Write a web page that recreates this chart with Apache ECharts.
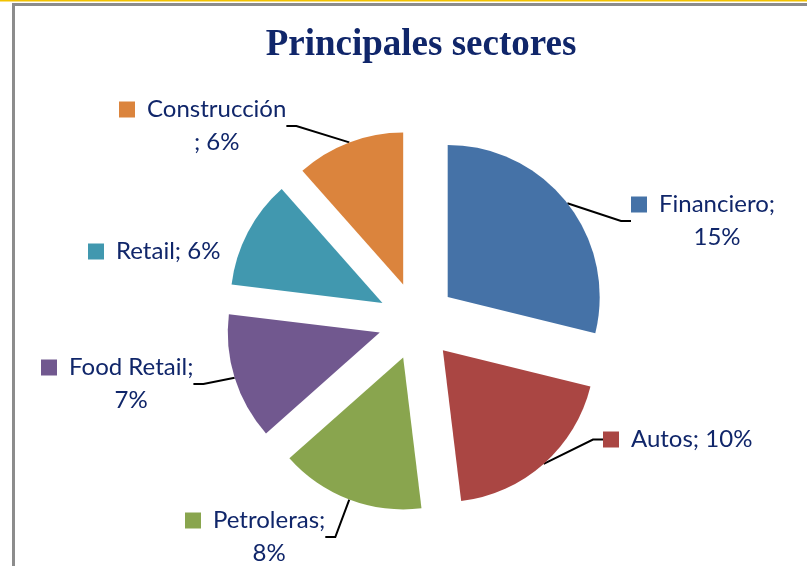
<!DOCTYPE html>
<html>
<head>
<meta charset="utf-8">
<script src="https://cdn.jsdelivr.net/npm/echarts@6/dist/echarts.min.js"></script>
<style>
    html, body { margin: 0; padding: 0; background: #fff; }
    #main { width: 807px; height: 566px; }
</style>
</head>
<body>
<div id="main"></div>
<script>
// datos del grafico
var sectores = ['Financiero', 'Autos', 'Petroleras', 'Food Retail', 'Retail', 'Construcción'];
var pesos = [15, 10, 8, 7, 6, 6];

// estilo / colocacion de etiquetas (no son datos)
var colores = ['#4572A7', '#AA4643', '#89A54E', '#71588F', '#4198AF', '#DB843D'];
var corte = ['after', 'none', 'after', 'after', 'none', 'before']; // donde parte la etiqueta
var posEtiqueta = [[631, 188], [603, 423], [185, 504], [41, 351], [88, 235], [119, 93]];
var conLinea = [true, true, true, true, false, true];

var textColor = '#10266A';
var fuente = 'Lato';
var centro = [417, 321];
var radio = 152;
var separacion = 39; // desplazamiento de cada porcion

var myChart = echarts.init(document.getElementById('main'), null, { renderer: 'canvas' });

function etiqueta(params) {
    var i = params.dataIndex;
    var pct = params.value + '%';
    if (corte[i] == 'after') {
        return '{sq|}{t|' + params.name + ';}\n{sp|}{c|' + pct + '}';
    } else if (corte[i] == 'before') {
        return '{sq|}{t|' + params.name + '}\n{sp|}{c|; ' + pct + '}';
    }
    return '{sq|}{t|' + params.name + '; ' + pct + '}';
}

// una serie por porcion, desplazada segun su bisectriz (pie "explotado")
var total = pesos.reduce(function (a, b) { return a + b; }, 0);
var acum = 0;
var series = [];
sectores.forEach(function (nombre, k) {
    var medio = (acum + pesos[k] / 2) / total * Math.PI * 2;
    acum += pesos[k];
    var cx = centro[0] + separacion * Math.sin(medio);
    var cy = centro[1] - separacion * Math.cos(medio);
    series.push({
        name: nombre,
        type: 'pie',
        center: [cx, cy],
        radius: radio,
        startAngle: 90,
        clockwise: true,
        silent: true,
        emphasis: { disabled: true },
        data: sectores.map(function (name, j) {
            return {
                name: name,
                value: pesos[j],
                itemStyle: { color: j == k ? colores[j] : 'rgba(0,0,0,0)', borderWidth: 0 },
                label: { show: j == k },
                labelLine: { show: j == k && conLinea[j] }
            };
        }),
        label: {
            position: 'outside',
            formatter: etiqueta,
            color: textColor,
            fontFamily: fuente,
            fontSize: 24,
            rich: {
                sq: { width: 16, height: 16, backgroundColor: colores[k], align: 'left' },
                sp: { width: 28, align: 'left' },
                t: { fontFamily: fuente, fontSize: 24, color: textColor, padding: [0, 0, 0, 12], lineHeight: 33 },
                c: { fontFamily: fuente, fontSize: 24, color: textColor, align: 'center', lineHeight: 33 }
            }
        },
        labelLine: {
            length: 10,
            length2: 10,
            lineStyle: { color: '#000', width: 2 }
        },
        labelLayout: function (params) {
            var p = posEtiqueta[params.dataIndex];
            return { x: p[0], y: p[1], align: 'left', verticalAlign: 'top', moveOverlap: false, hideOverlap: false };
        }
    });
});

myChart.setOption({
    animation: false,
    backgroundColor: '#fff',
    title: {
        text: 'Principales sectores',
        left: 416,
        top: 22,
        textAlign: 'center',
        textStyle: {
            fontFamily: 'Liberation Serif',
            fontWeight: 'bold',
            fontSize: 37,
            color: textColor
        }
    },
    graphic: [
        { type: 'rect', shape: { x: 0, y: 0, width: 807, height: 1.5 }, style: { fill: '#F2C200' } },
        { type: 'rect', shape: { x: 12, y: 3, width: 800, height: 3 }, style: { fill: '#8c8c8c' } },
        { type: 'rect', shape: { x: 12, y: 3, width: 3, height: 570 }, style: { fill: '#8c8c8c' } }
    ],
    series: series
});
</script>
</body>
</html>
